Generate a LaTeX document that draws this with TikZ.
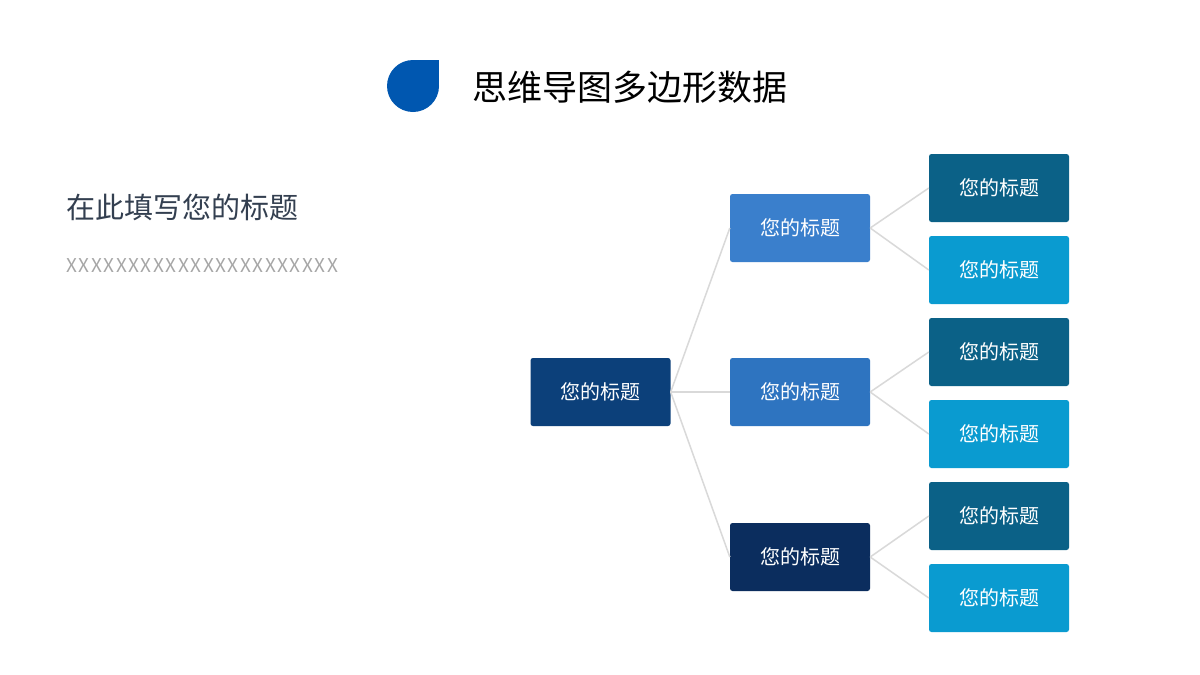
\documentclass[tikz,border=0pt]{standalone}
\usepackage{fontspec}
\setmainfont{Noto Sans CJK SC}
\begin{document}
\begin{tikzpicture}[x=1pt,y=-1pt,
 box/.style={rounded corners=2.5pt,minimum width=140pt,minimum height=68pt,inner sep=0pt,text=white,font=\fontsize{20}{20}\selectfont},
 link/.style={draw=black!15,line width=1.5pt}]
\path[use as bounding box,fill=white] (0,0) rectangle (1200,675);
\fill[fill={rgb,255:red,0;green,87;blue,176}] (413,86) circle (26);
\fill[fill={rgb,255:red,0;green,87;blue,176}] (413,60) rectangle (439,86);
\node[anchor=west,font=\fontsize{35}{35}\selectfont] (t) at (469,87) {思维导图多边形数据};
\node[anchor=west,text={rgb,255:red,51;green,63;blue,80},font=\fontsize{29}{29}\selectfont] (s) at (63,207) {在此填写您的标题};
\node[anchor=west,text=black!35,font=\fontsize{19}{19}\selectfont] (x) at (63,266) {\addfontfeature{LetterSpace=8}XXXXXXXXXXXXXXXXXXXXXX};
\node[box,fill={rgb,255:red,12;green,64;blue,122}] (r) at (600.5,392) {您的标题};
\node[box,fill={rgb,255:red,58;green,127;blue,204}] (m1) at (800,228) {您的标题};
\node[box,fill={rgb,255:red,46;green,116;blue,192}] (m2) at (800,392) {您的标题};
\node[box,fill={rgb,255:red,11;green,45;blue,94}] (m3) at (800,557) {您的标题};
\foreach \i/\y in {1/188,3/352,5/516}{
 \node[box,fill={rgb,255:red,11;green,97;blue,135}] (a\i) at (999,\y) {您的标题};}
\foreach \i/\y in {2/270,4/434,6/598}{
 \node[box,fill={rgb,255:red,10;green,155;blue,208}] (a\i) at (999,\y) {您的标题};}
\draw[link] (r.east) -- (m1.west);
\draw[link] (r.east) -- (m2.west);
\draw[link] (r.east) -- (m3.west);
\draw[link] (m1.east) -- (a1.west); \draw[link] (m1.east) -- (a2.west);
\draw[link] (m2.east) -- (a3.west); \draw[link] (m2.east) -- (a4.west);
\draw[link] (m3.east) -- (a5.west); \draw[link] (m3.east) -- (a6.west);
\end{tikzpicture}
\end{document}
